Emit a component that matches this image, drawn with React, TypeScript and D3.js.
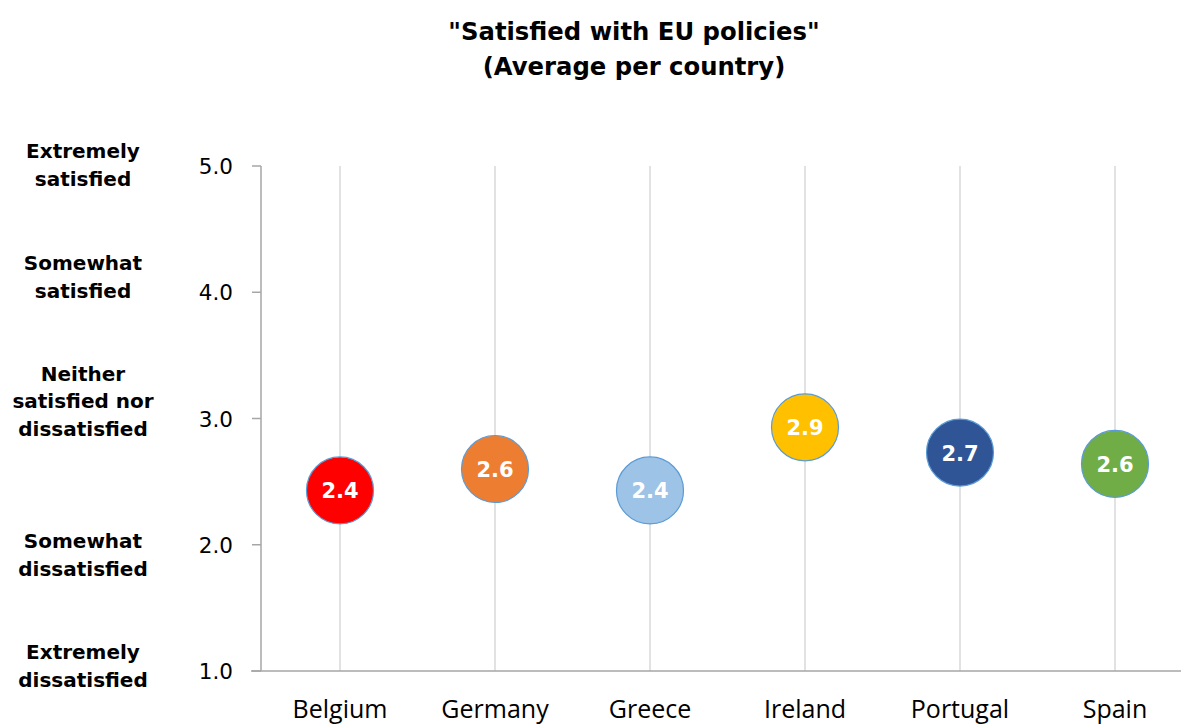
import React from "react";
import * as d3 from "d3";

const countries = ["Belgium", "Germany", "Greece", "Ireland", "Portugal", "Spain"];
const averages = [2.43, 2.6, 2.43, 2.93, 2.73, 2.64];
const colors = ["#FF0000", "#ED7D31", "#9DC3E6", "#FFC000", "#2F5597", "#70AD47"];
const yTicks = [1, 2, 3, 4, 5];
const scaleLabels = [
  { v: 5, lines: ["Extremely", "satisfied"], mid: 165 },
  { v: 4, lines: ["Somewhat", "satisfied"], mid: 277 },
  { v: 3, lines: ["Neither", "satisfied nor", "dissatisfied"], mid: 401 },
  { v: 2, lines: ["Somewhat", "dissatisfied"], mid: 555 },
  { v: 1, lines: ["Extremely", "dissatisfied"], mid: 666 },
];

export default function App() {
  const W = 1181, H = 724;
  const x0 = 261;
  const y = d3.scaleLinear().domain([1, 5]).range([671, 166]);
  const x = d3.scaleBand().domain(countries).range([262.5, 1192.5]);
  const cx = (c: string) => (x(c) as number) + x.bandwidth() / 2;
  const r = 33.5;
  return (
    <svg width={W} height={H} style={{ position: "absolute", left: 0, top: 0, background: "#fff" }}>
      <g fontFamily="'DejaVu Sans', Verdana, sans-serif" fontWeight="bold" fill="#000" textAnchor="middle">
        <text x={634} y={40} fontSize={24.3}>"Satisfied with EU policies"</text>
        <text x={634} y={75} fontSize={24.3}>(Average per country)</text>
      </g>
      {countries.map((c) => (
        <line key={c} x1={cx(c)} x2={cx(c)} y1={y(5)} y2={y(1)} stroke="#d9d9d9" strokeWidth={1.5} />
      ))}
      <line x1={x0} x2={x0} y1={y(5)} y2={y(1)} stroke="#a6a6a6" strokeWidth={1.5} />
      <line x1={251} x2={W} y1={y(1)} y2={y(1)} stroke="#a6a6a6" strokeWidth={1.5} />
      {yTicks.map((t) => (
        <g key={t}>
          <line x1={252} x2={x0} y1={y(t)} y2={y(t)} stroke="#a6a6a6" strokeWidth={1.5} />
          <text x={233} y={y(t) + 8} fontSize={21.5} textAnchor="end" fontFamily="'DejaVu Sans', sans-serif" fill="#000">
            {t.toFixed(1)}
          </text>
        </g>
      ))}
      {scaleLabels.map((s) => (
        <g key={s.v + s.lines[0]}>
          {s.lines.map((l, i) => (
            <text key={i} x={83} y={s.mid + (i - (s.lines.length - 1) / 2) * 27.5 + 7}
              fontSize={20} fontWeight="bold" textAnchor="middle" fontFamily="'DejaVu Sans', sans-serif" fill="#000">
              {l}
            </text>
          ))}
        </g>
      ))}
      {countries.map((c) => (
        <text key={c} x={cx(c)} y={718} fontSize={25} textAnchor="middle" fontFamily="'Open Sans', sans-serif" fill="#000">
          {c}
        </text>
      ))}
      {countries.map((c, i) => (
        <g key={c}>
          <circle cx={cx(c)} cy={y(averages[i])} r={r} fill={colors[i]} stroke="#5B9BD5" strokeWidth={1.2} />
          <text x={cx(c)} y={y(averages[i]) + 8} fontSize={21} fontWeight="bold" fill="#fff" textAnchor="middle"
            fontFamily="'DejaVu Sans', sans-serif">
            {averages[i].toFixed(1)}
          </text>
        </g>
      ))}
    </svg>
  );
}
